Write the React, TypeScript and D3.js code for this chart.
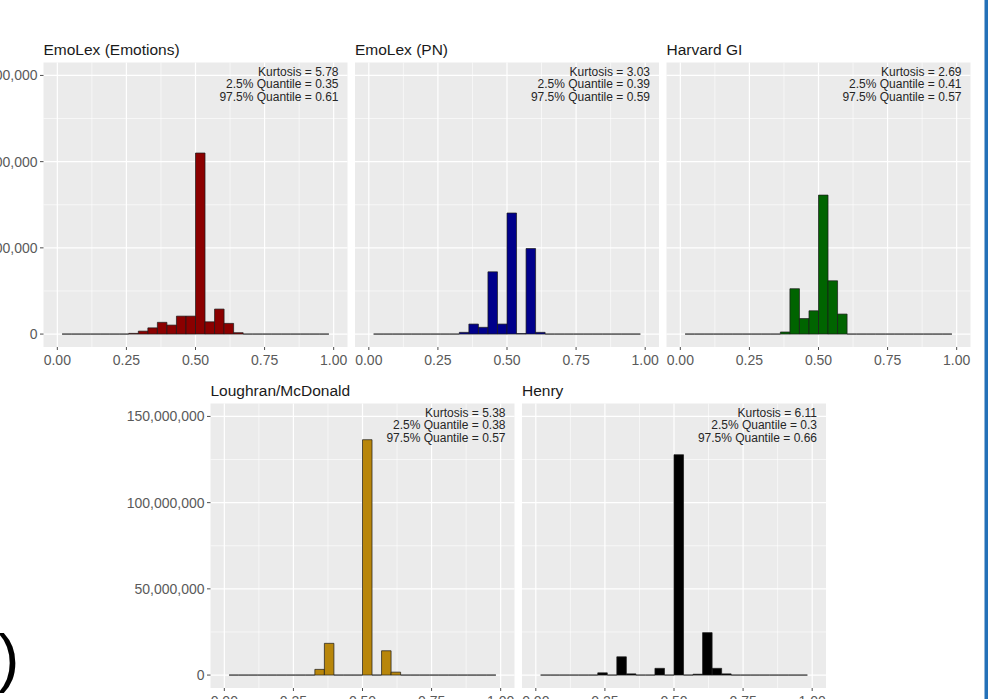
import React from 'react';
import * as d3 from 'd3';

// histogram: 30 bins over [0, 1] (width 1/29), outer two dropped by xlim
const BIN_WIDTH = 1 / 29;
const BIN_CENTERS = d3.range(1, 29).map(k => k * BIN_WIDTH);

// counts per bin, in millions of sentences
const emotionsCounts = [0, 0, 0, 0, 0, 0, 0, 0.4, 1.7, 3.6, 6.8, 5.2, 10.4, 10.4, 105, 7.1, 14.5, 6.2, 0.8, 0, 0, 0, 0, 0, 0, 0, 0, 0];
const pnCounts = [0, 0, 0, 0, 0, 0, 0, 0, 0, 1.0, 5.8, 3.9, 36.1, 5.8, 70.2, 0.3, 49.6, 1.0, 0, 0, 0, 0, 0, 0, 0, 0, 0, 0];
const harvardCounts = [0, 0, 0, 0, 0, 0, 0, 0, 0, 0, 1.2, 26.3, 9.0, 13.5, 80.6, 30.9, 11.6, 0, 0, 0, 0, 0, 0, 0, 0, 0, 0, 0];
const lmCounts = [0, 0, 0, 0, 0, 0, 0, 0, 0, 3.3, 18.4, 0, 0, 0, 136.5, 0, 14.1, 1.7, 0, 0, 0, 0, 0, 0, 0, 0, 0, 0];
const henryCounts = [0, 0, 0, 0, 0, 0, 1.3, 0, 10.6, 0.7, 0, 0, 3.9, 0, 127.8, 0, 0.5, 24.6, 3.9, 0.7, 0, 0, 0, 0, 0, 0, 0, 0];

const titles = ['EmoLex (Emotions)', 'EmoLex (PN)', 'Harvard GI', 'Loughran/McDonald', 'Henry'];
const fills = ['#8B0000', '#00008B', '#006400', '#B8860B', '#000000'];
const kurtosis = ['5.78', '3.03', '2.69', '5.38', '6.11'];
const q025 = ['0.35', '0.39', '0.41', '0.38', '0.3'];
const q975 = ['0.61', '0.59', '0.57', '0.57', '0.66'];
const allCounts = [emotionsCounts, pnCounts, harvardCounts, lmCounts, henryCounts];

const X_TICKS = [0, 0.25, 0.5, 0.75, 1];
const X_MINOR = [0.125, 0.375, 0.625, 0.875];
const Y_TICKS = [0, 50, 100, 150];
const Y_MINOR = [25, 75, 125];

const W = 989;
const H = 699;
const PANEL_W = 304;
const PANEL_H = 284.5;
const FONT = '"Liberation Sans", Arial, sans-serif';

const layout = [
  { x: 43.5, y: 62.5, yAxis: true },
  { x: 355, y: 62.5, yAxis: false },
  { x: 666.5, y: 62.5, yAxis: false },
  { x: 210.5, y: 403.5, yAxis: true },
  { x: 522, y: 403.5, yAxis: false },
];

const xScale = d3.scaleLinear().domain([-0.05, 1.05]).range([0, PANEL_W]);
const yScale = d3.scaleLinear().domain([-7.5, 157.5]).range([PANEL_H, 0]);
const fmtY = (v: number) => d3.format(',')(v * 1e6);
const fmtX = d3.format('.2f');

function Panel({ i }: { i: number }) {
  const pos = layout[i];
  const counts = allCounts[i];
  const lines = [`Kurtosis = ${kurtosis[i]}`, `2.5% Quantile = ${q025[i]}`, `97.5% Quantile = ${q975[i]}`];
  return (
    <g transform={`translate(${pos.x},${pos.y})`}>
      <text x={0} y={-8} fontSize={15.5} fill="#1a1a1a" fontFamily={FONT}>{titles[i]}</text>
      <rect width={PANEL_W} height={PANEL_H} fill="#EBEBEB" />
      {Y_MINOR.map(v => (
        <line key={'ym' + v} x1={0} x2={PANEL_W} y1={yScale(v)} y2={yScale(v)} stroke="#fff" strokeWidth={0.6} />
      ))}
      {X_MINOR.map(v => (
        <line key={'xm' + v} y1={0} y2={PANEL_H} x1={xScale(v)} x2={xScale(v)} stroke="#fff" strokeWidth={0.6} />
      ))}
      {Y_TICKS.map(v => (
        <line key={'yM' + v} x1={0} x2={PANEL_W} y1={yScale(v)} y2={yScale(v)} stroke="#fff" strokeWidth={1.2} />
      ))}
      {X_TICKS.map(v => (
        <line key={'xM' + v} y1={0} y2={PANEL_H} x1={xScale(v)} x2={xScale(v)} stroke="#fff" strokeWidth={1.2} />
      ))}
      {BIN_CENTERS.map((c, j) => {
        const x0 = xScale(c - BIN_WIDTH / 2);
        const x1 = xScale(c + BIN_WIDTH / 2);
        const y0 = yScale(0);
        const y1 = yScale(counts[j]);
        const p = d3.path();
        p.moveTo(x0, y0);
        p.lineTo(x0, y1);
        p.lineTo(x1, y1);
        p.lineTo(x1, y0);
        p.closePath();
        return <path key={j} d={p.toString()} fill={fills[i]} stroke="#1a1a1a" strokeWidth={0.7} />;
      })}
      {lines.map((t, k) => (
        <text key={k} x={PANEL_W - 9} y={13.5 + k * 12.4} textAnchor="end" fontSize={12} fill="#262626" fontFamily={FONT}>
          {t}
        </text>
      ))}
      {X_TICKS.map(v => (
        <g key={'xt' + v} transform={`translate(${xScale(v)},${PANEL_H})`}>
          <line y1={0} y2={3} stroke="#4d4d4d" strokeWidth={1} />
          <text y={17.5} textAnchor="middle" fontSize={14} fill="#5a5a5a" fontFamily={FONT}>{fmtX(v)}</text>
        </g>
      ))}
      {pos.yAxis && Y_TICKS.map(v => (
        <g key={'yt' + v} transform={`translate(0,${yScale(v)})`}>
          <line x1={-3.5} x2={0} stroke="#4d4d4d" strokeWidth={1} />
          <text x={-6} y={5} textAnchor="end" fontSize={14} fill="#5a5a5a" fontFamily={FONT}>{fmtY(v)}</text>
        </g>
      ))}
    </g>
  );
}

export default function App() {
  return (
    <svg width={W} height={H} style={{ position: 'fixed', left: 0, top: 0, background: '#fff' }}>
      <rect width={W} height={H} fill="#fff" />
      {titles.map((_, i) => <Panel key={i} i={i} />)}
      <text x={-2} y={680} fontSize={64} fill="#000" fontFamily={FONT}>)</text>
      <rect x={984.5} y={0} width={3.5} height={H} fill="#2471B8" />
    </svg>
  );
}
